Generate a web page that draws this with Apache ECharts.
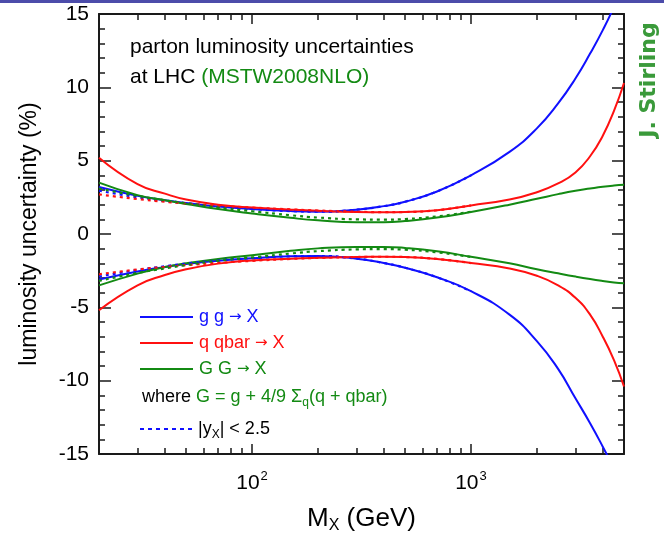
<!DOCTYPE html>
<html>
<head>
<meta charset="utf-8">
<script src="https://cdn.jsdelivr.net/npm/echarts@6/dist/echarts.min.js"></script>
<style>
html,body{margin:0;padding:0;background:#fff;}
#c{width:664px;height:547px;}
</style>
</head>
<body>
<div id="c"></div>
<script>
// ---- data ----
const M = [20, 30, 40, 50, 70, 100, 150, 200, 300, 400, 500, 700, 1000, 1500, 2000, 2500, 3000, 3500, 4000, 4500, 5000];
const ggUp = [3.2, 2.6, 2.3, 2.12, 1.88, 1.7, 1.56, 1.52, 1.66, 1.9, 2.2, 2.9, 4.0, 5.6, 7.2, 8.9, 10.6, 12.3, 13.9, 15.5, 17.2];
const ggDn = [-3.1, -2.55, -2.25, -2.05, -1.82, -1.65, -1.52, -1.5, -1.68, -1.98, -2.3, -2.95, -3.9, -5.5, -7.3, -9.2, -11.2, -12.9, -14.5, -16.0, -17.4];
const qqUp = [5.2, 3.4, 2.75, 2.35, 2.0, 1.8, 1.66, 1.58, 1.5, 1.48, 1.5, 1.62, 1.95, 2.35, 2.85, 3.45, 4.2, 5.3, 6.7, 8.4, 10.3];
const qqDn = [-5.2, -3.5, -2.8, -2.4, -2.02, -1.8, -1.68, -1.62, -1.56, -1.55, -1.57, -1.7, -1.98, -2.35, -2.85, -3.5, -4.35, -5.5, -7.0, -8.6, -10.4];
const GGUp = [3.5, 2.65, 2.3, 2.05, 1.7, 1.4, 1.1, 0.93, 0.8, 0.8, 0.88, 1.12, 1.5, 2.0, 2.4, 2.72, 2.95, 3.1, 3.22, 3.3, 3.35];
const GGDn = [-3.5, -2.7, -2.25, -2.0, -1.7, -1.45, -1.15, -0.98, -0.88, -0.88, -0.95, -1.18, -1.55, -2.0, -2.4, -2.68, -2.9, -3.07, -3.2, -3.3, -3.35];

// |y_X| < 2.5 curves (dotted)
const DM = [20, 30, 40, 50, 70, 100, 150, 200, 300, 400, 500, 700, 1000];
const ggDotUp = [2.95, 2.5, 2.25, 2.1, 1.86, 1.7, 1.56, 1.52, 1.66, 1.9, 2.2, 2.9, 4.0];
const ggDotDn = [-2.9, -2.45, -2.2, -2.02, -1.8, -1.65, -1.52, -1.5, -1.68, -1.98, -2.3, -2.95, -3.9];
const qqDotUp = [2.7, 2.38, 2.2, 2.08, 1.93, 1.8, 1.68, 1.6, 1.52, 1.49, 1.5, 1.62, 1.95];
const qqDotDn = [-2.75, -2.42, -2.25, -2.12, -1.97, -1.83, -1.7, -1.63, -1.57, -1.55, -1.57, -1.7, -1.98];
const GGDotUp = [3.1, 2.6, 2.3, 2.1, 1.8, 1.55, 1.28, 1.12, 1.0, 0.98, 1.02, 1.2, 1.52];
const GGDotDn = [-3.2, -2.65, -2.35, -2.12, -1.82, -1.6, -1.33, -1.17, -1.05, -1.03, -1.07, -1.25, -1.57];

const xMajorTicks = [100, 1000];
const xMinorTicks = [30, 40, 50, 60, 70, 80, 90, 200, 300, 400, 500, 600, 700, 800, 900, 2000, 3000, 4000];
const yMin = -15, yMax = 15, yStep = 5;

// ---- styling ----
const BLUE = '#1010ff', RED = '#ff1010', GREEN = '#138a13';
const FONT = 'Liberation Sans, Arial, sans-serif';
const AX = '#1a1a1a';

function pairs(xs, ys) { return xs.map((x, i) => [x, ys[i]]); }
function solid(name, xs, ys, color) {
  return { name, type: 'line', data: pairs(xs, ys), smooth: 0.5, symbol: 'none',
    lineStyle: { color, width: 2 }, clip: true, z: 3 };
}
function dotted(name, xs, ys, color) {
  return { name, type: 'line', data: pairs(xs, ys), smooth: 0.5, symbol: 'none',
    lineStyle: { color, width: 2.2, type: [3, 4] }, clip: true, z: 4 };
}

function xAxisDef(pos, ticks, len, showLine, showLabel) {
  return {
    type: 'log', logBase: 10, min: 20, max: 5000, position: pos,
    axisLine: { show: showLine, onZero: false, lineStyle: { color: AX, width: 2 } },
    axisTick: { show: true, inside: true, length: len, customValues: ticks, lineStyle: { color: AX, width: 1.5 } },
    axisLabel: showLabel ? {
      show: true, customValues: xMajorTicks, margin: 16,
      formatter: v => '{b|10}{s|' + Math.round(Math.log10(v)) + '}',
      rich: {
        b: { fontSize: 21, fontFamily: FONT, color: '#000', lineHeight: 26, verticalAlign: 'middle' },
        s: { fontSize: 13, fontFamily: FONT, color: '#000', lineHeight: 13, verticalAlign: 'top', padding: [0, 0, 0, 1] }
      }
    } : { show: false },
    splitLine: { show: false }, minorSplitLine: { show: false }
  };
}
function yAxisDef(pos, showLabel) {
  return {
    type: 'value', min: yMin, max: yMax, interval: yStep, position: pos,
    axisLine: { show: true, onZero: false, lineStyle: { color: AX, width: 2 } },
    axisTick: { show: true, inside: true, length: 12, lineStyle: { color: AX, width: 1.5 } },
    minorTick: { show: true, splitNumber: 5, length: 6, lineStyle: { color: AX, width: 1.5 } },
    axisLabel: { show: showLabel, fontSize: 21, fontFamily: FONT, color: '#000', margin: 10 },
    splitLine: { show: false }, minorSplitLine: { show: false }
  };
}

const chart = echarts.init(document.getElementById('c'), null, { renderer: 'canvas' });

const xAxes = [
  xAxisDef('bottom', xMajorTicks, 10, true, true),
  xAxisDef('bottom', xMinorTicks, 6, false, false),
  xAxisDef('top', xMajorTicks, 10, true, false),
  xAxisDef('top', xMinorTicks, 6, false, false)
];
xAxes[0].name = '{m|M}{x|X}{m| (GeV)}';
xAxes[0].nameLocation = 'middle';
xAxes[0].nameGap = 50;
xAxes[0].nameTextStyle = {
  rich: {
    m: { fontSize: 26, fontFamily: FONT, color: '#000', lineHeight: 30, verticalAlign: 'middle' },
    x: { fontSize: 16, fontFamily: FONT, color: '#000', lineHeight: 16, verticalAlign: 'bottom' }
  }
};

const yAxes = [yAxisDef('left', true), yAxisDef('right', false)];
yAxes[0].name = 'luminosity uncertainty (%)';
yAxes[0].nameLocation = 'middle';
yAxes[0].nameRotate = 90;
yAxes[0].nameGap = 58;
yAxes[0].nameTextStyle = { fontSize: 23, fontFamily: FONT, color: '#000' };

const series = [
  solid('g g → X', M, ggUp, BLUE), solid('g g → X', M, ggDn, BLUE),
  solid('q qbar → X', M, qqUp, RED), solid('q qbar → X', M, qqDn, RED),
  solid('G G → X', M, GGUp, GREEN), solid('G G → X', M, GGDn, GREEN),
  dotted('g g, |yX|<2.5', DM, ggDotUp, BLUE), dotted('g g, |yX|<2.5', DM, ggDotDn, BLUE),
  dotted('q qbar, |yX|<2.5', DM, qqDotUp, RED), dotted('q qbar, |yX|<2.5', DM, qqDotDn, RED),
  dotted('G G, |yX|<2.5', DM, GGDotUp, GREEN), dotted('G G, |yX|<2.5', DM, GGDotDn, GREEN)
];

const LX0 = 140, LX1 = 193, LT = 199;
const legRich = (color) => ({
  t: { fill: color, font: '18px ' + FONT, lineHeight: 24, verticalAlign: 'middle' },
  a: { fill: color, font: '15px DejaVu Sans, sans-serif', lineHeight: 24, verticalAlign: 'middle' }
});

const graphic = [
  { type: 'rect', left: 0, top: 0, shape: { width: 664, height: 3 }, style: { fill: '#4c4caa' } },
  { type: 'text', x: 130, y: 47, style: { text: 'parton luminosity uncertainties', fill: '#000', font: '21px ' + FONT, verticalAlign: 'middle' } },
  { type: 'text', x: 130, y: 77, style: { text: '{k|at LHC }{g|(MSTW2008NLO)}', verticalAlign: 'middle',
      rich: { k: { fill: '#000', font: '21px ' + FONT }, g: { fill: GREEN, font: '21px ' + FONT } } } },
  { type: 'text', x: 649, y: 80, rotation: Math.PI / 2,
    style: { text: 'J. Stirling', fill: '#3a9a3a', font: 'bold 22px DejaVu Sans, sans-serif', align: 'center', verticalAlign: 'middle' } },
  // legend
  { type: 'line', shape: { x1: LX0, y1: 317, x2: LX1, y2: 317 }, style: { stroke: BLUE, lineWidth: 2 } },
  { type: 'text', x: LT, y: 317, style: { text: '{t|g g }{a|→}{t| X}', verticalAlign: 'middle', rich: legRich(BLUE) } },
  { type: 'line', shape: { x1: LX0, y1: 343, x2: LX1, y2: 343 }, style: { stroke: RED, lineWidth: 2 } },
  { type: 'text', x: LT, y: 343, style: { text: '{t|q qbar }{a|→}{t| X}', verticalAlign: 'middle', rich: legRich(RED) } },
  { type: 'line', shape: { x1: LX0, y1: 369, x2: LX1, y2: 369 }, style: { stroke: GREEN, lineWidth: 2 } },
  { type: 'text', x: LT, y: 369, style: { text: '{t|G G }{a|→}{t| X}', verticalAlign: 'middle', rich: legRich(GREEN) } },
  { type: 'text', x: 142, y: 397, style: {
      text: '{k|where }{g|G = g + 4/9 Σ}{s|q}{g|(q + qbar)}', verticalAlign: 'middle',
      rich: {
        k: { fill: '#000', font: '18px ' + FONT, lineHeight: 24, verticalAlign: 'middle' },
        g: { fill: GREEN, font: '18px ' + FONT, lineHeight: 24, verticalAlign: 'middle' },
        s: { fill: GREEN, font: '12px ' + FONT, lineHeight: 12, verticalAlign: 'bottom' }
      } } },
  { type: 'line', shape: { x1: LX0, y1: 429, x2: LX1, y2: 429 }, style: { stroke: BLUE, lineWidth: 2, lineDash: [4, 4] } },
  { type: 'text', x: 198, y: 429, style: {
      text: '{k||y}{s|X}{k|| < 2.5}', verticalAlign: 'middle',
      rich: {
        k: { fill: '#000', font: '18px ' + FONT, lineHeight: 24, verticalAlign: 'middle' },
        s: { fill: '#000', font: '12px ' + FONT, lineHeight: 12, verticalAlign: 'bottom' }
      } } }
];

chart.setOption({
  animation: false,
  backgroundColor: '#fff',
  grid: { left: 99, right: 40, top: 14, bottom: 93, containLabel: false, outerBoundsMode: 'none' },
  xAxis: xAxes,
  yAxis: yAxes,
  series,
  graphic
});
</script>
</body>
</html>
